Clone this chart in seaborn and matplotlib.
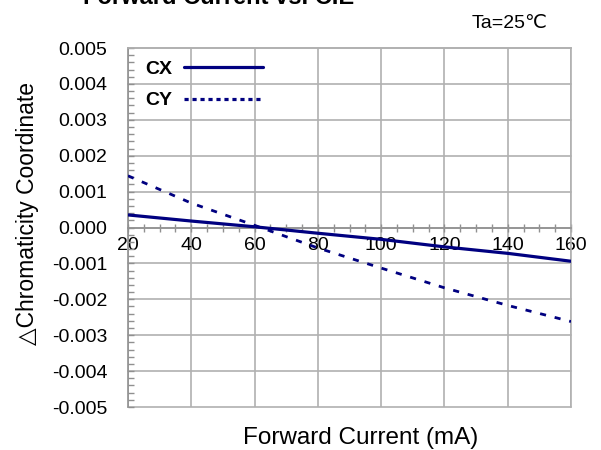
import matplotlib
matplotlib.use("Agg")
import matplotlib.pyplot as plt
from matplotlib.lines import Line2D
from matplotlib.ticker import MultipleLocator, FuncFormatter
import pandas as pd
import seaborn as sns

# values
current = [20, 40, 60, 80, 100, 120, 140, 160]
cx = [0.00035, 0.00018, 0.00002, -0.00016, -0.00033, -0.00054, -0.00072, -0.00094]
cy = [0.00144, 0.00068, 0.00006, -0.00057, -0.00113, -0.00168, -0.00217, -0.00262]
series_names = ["CX", "CY"]

NAVY = "#000080"
GRID = "#b0b0b0"
TICK = "#909090"

sns.set_style("white")
plt.rcParams["font.family"] = ["Liberation Sans", "DejaVu Sans"]
plt.rcParams["axes.unicode_minus"] = False
plt.rcParams["text.color"] = "black"
plt.rcParams["axes.labelcolor"] = "black"
plt.rcParams["xtick.color"] = "black"
plt.rcParams["ytick.color"] = "black"

df = pd.DataFrame({"current": current, "CX": cx, "CY": cy})

fig = plt.figure(figsize=(6.01, 4.5), dpi=100)
ax = fig.add_axes([128 / 601, 1 - 407 / 450, 443 / 601, 359 / 450])

sns.lineplot(data=df, x="current", y="CX", ax=ax, color=NAVY, lw=2.3, zorder=4)
sns.lineplot(data=df, x="current", y="CY", ax=ax, color=NAVY, lw=2.0,
             linestyle=(0, (2.2, 3.2)), zorder=4)

ax.set_xlim(20, 160)
ax.set_ylim(-0.005, 0.005)
ax.xaxis.set_major_locator(MultipleLocator(20))
ax.xaxis.set_minor_locator(MultipleLocator(5))
ax.yaxis.set_major_locator(MultipleLocator(0.001))
ax.yaxis.set_minor_locator(MultipleLocator(0.0002))
ax.yaxis.set_major_formatter(FuncFormatter(lambda v, p: f"{v:.3f}".replace("-0.000", "0.000")))

ax.grid(True, which="major", color=GRID, lw=1.2)
for gl in ax.get_xgridlines() + ax.get_ygridlines():
    gl.set_clip_on(False)

for side in ["top", "right"]:
    ax.spines[side].set_color(GRID)
    ax.spines[side].set_linewidth(1.2)
ax.spines["left"].set_color(TICK)
ax.spines["left"].set_linewidth(1.2)
ax.spines["bottom"].set_position(("data", 0))
ax.spines["bottom"].set_color(TICK)
ax.spines["bottom"].set_linewidth(1.2)

ax.tick_params(axis="x", which="both", bottom=True, direction="inout", length=6,
               width=1, color=TICK, labelsize=14, labelcolor="black", pad=4)
ax.tick_params(axis="y", which="both", left=True, direction="in", length=4,
               width=1, color=TICK, labelsize=14, labelcolor="black", pad=15)

ax.set_xlabel("Forward Current (mA)", fontsize=17.5, color="black")
ax.xaxis.set_label_coords(0.525, -0.055)
ax.set_ylabel("△Chromaticity Coordinate", fontsize=16.5, color="black")
ax.yaxis.set_label_coords(-0.2, 0.54)

handles = [Line2D([], [], color=NAVY, lw=2.3),
           Line2D([], [], color=NAVY, lw=2.3, linestyle=(0, (1.3, 1.2)))]
ax.legend(handles, series_names, loc="upper left", bbox_to_anchor=(0.038, 0.965),
          frameon=False, markerfirst=False, borderpad=0, borderaxespad=0,
          handlelength=4.1, handletextpad=0.6, labelspacing=0.7,
          prop={"weight": "bold", "size": 14})

fig.text(219 / 601, 1 - 4 / 450, "Forward Current vs. CIE", ha="center",
         va="baseline", fontsize=17, fontweight="bold", color="black")
fig.text(548 / 601, 1 - 28 / 450, "Ta=25℃", ha="right", va="baseline",
         fontsize=14, color="black")

fig.savefig("out.png", dpi=100)
